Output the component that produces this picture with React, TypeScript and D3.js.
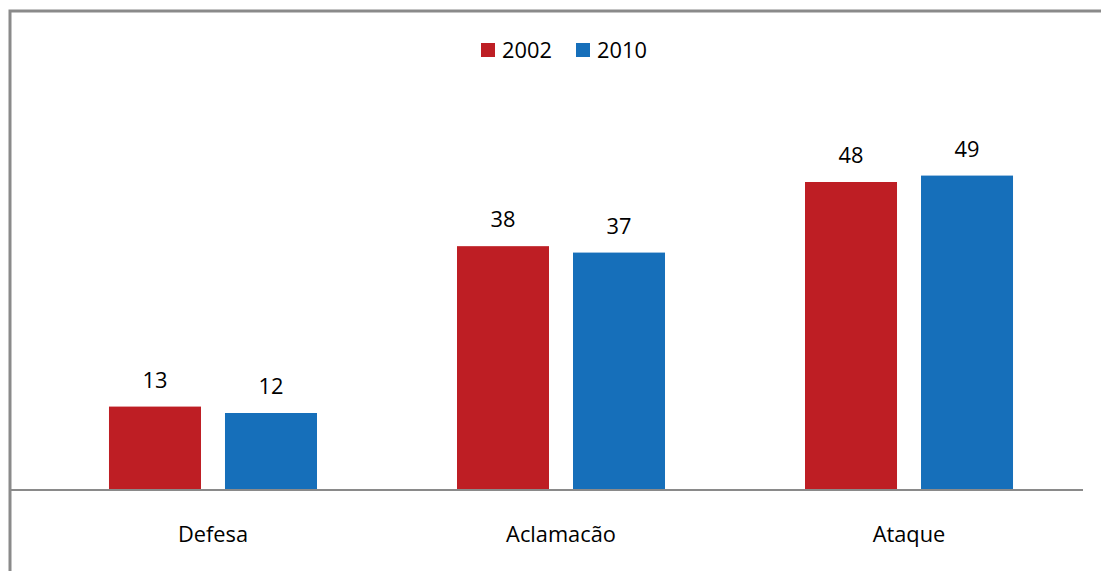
import React from "react";
import * as d3 from "d3";

const categories = ["Defesa", "Aclamacão", "Ataque"];
const seriesNames = ["2002", "2010"];
const values2002 = [13, 38, 48];
const values2010 = [12, 37, 49];
const colors = ["#BE1E24", "#166FBA"];

export default function App() {
  const W = 1101, H = 571;
  const x0 = d3.scaleBand<string>().domain(categories).range([39, 1083]).paddingInner(0.4023).paddingOuter(0.2011);
  const x1 = d3.scaleBand<string>().domain(seriesNames).range([0, x0.bandwidth()]).paddingInner(0.2069);
  const y = d3.scaleLinear().domain([0, 60]).range([490, 105]);
  const series = [values2002, values2010];
  const font = "'Open Sans', sans-serif";
  const fs = 21.8;
  return (
    <svg width={W} height={H} style={{ position: "absolute", left: 0, top: 0 }}>
      <rect x={0} y={0} width={W} height={H} fill="#fff" />
      <rect x={10} y={11} width={1100} height={570} fill="none" stroke="#8a8a8a" strokeWidth={3} />
      {categories.map((c, i) =>
        seriesNames.map((s, j) => {
          const v = series[j][i];
          const bx = (x0(c) ?? 0) + (x1(s) ?? 0);
          return (
            <g key={c + s}>
              <rect x={bx} y={y(v)} width={x1.bandwidth()} height={490 - y(v)} fill={colors[j]} />
              <text x={bx + x1.bandwidth() / 2} y={y(v) - 19} textAnchor="middle" fontFamily={font} fontSize={fs} fill="#000">{v}</text>
            </g>
          );
        })
      )}
      <line x1={10} x2={1083} y1={490} y2={490} stroke="#8a8a8a" strokeWidth={2} />
      {categories.map((c) => (
        <text key={c} x={(x0(c) ?? 0) + x0.bandwidth() / 2} y={542} textAnchor="middle" fontFamily={font} fontSize={fs} fill="#000">{c}</text>
      ))}
      {seriesNames.map((s, j) => (
        <g key={s} transform={`translate(${481 + j * 95},0)`}>
          <rect x={0} y={43} width={14} height={14} fill={colors[j]} />
          <text x={21} y={58} fontFamily={font} fontSize={fs} fill="#000">{s}</text>
        </g>
      ))}
    </svg>
  );
}
